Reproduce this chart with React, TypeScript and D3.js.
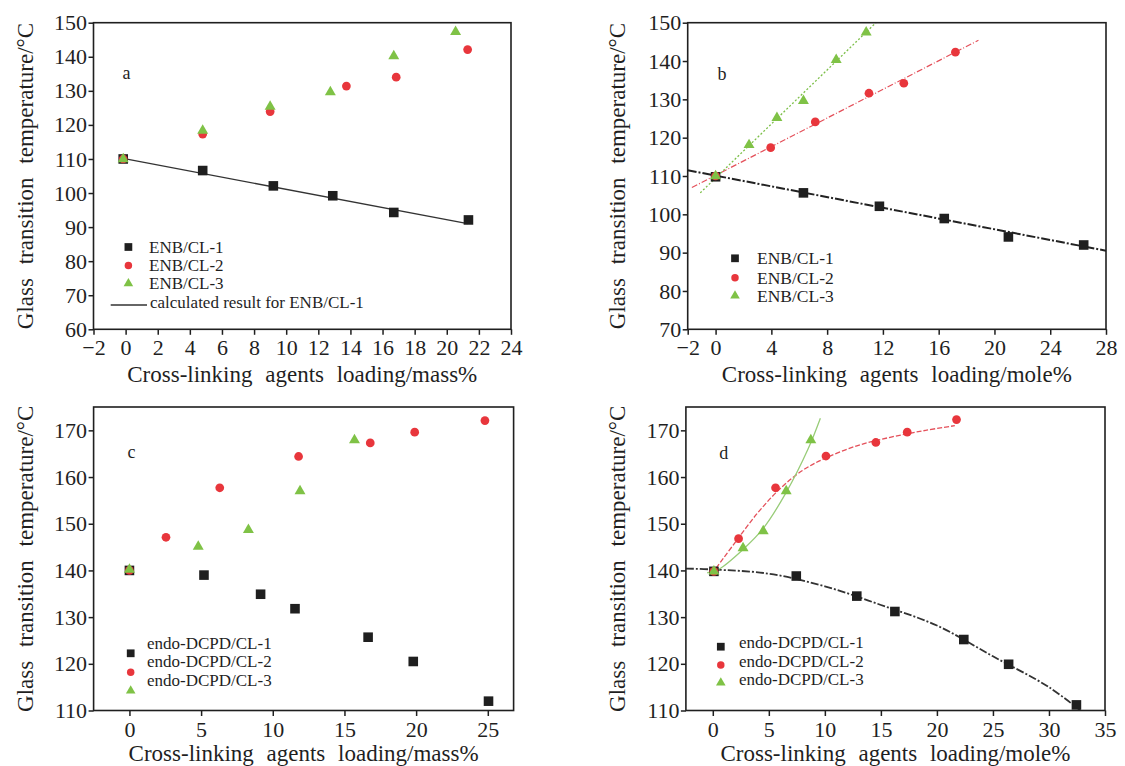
import React, { useRef, useEffect } from "react";
import * as d3 from "d3";

// ---- panel a : ENB, loading in mass% ----
const aX1 = [-0.15, 4.8, 9.2, 12.9, 16.7, 21.35];
const aY1 = [110, 106.6, 102.1, 99.2, 94.3, 92.1];
const aX2 = [-0.15, 4.8, 9.0, 13.75, 16.85, 21.3];
const aY2 = [110, 117.3, 123.9, 131.4, 134, 142.1];
const aX3 = [-0.15, 4.8, 9.0, 12.75, 16.7, 20.55];
const aY3 = [110, 118.3, 125.4, 129.6, 140.2, 147.3];
const aCalcX = [0, 21.3];
const aCalcY = [110, 91];
const aXTicks = [-2, 0, 2, 4, 6, 8, 10, 12, 14, 16, 18, 20, 22, 24];
const aYTicks = [60, 70, 80, 90, 100, 110, 120, 130, 140, 150];
const aLegend = ["ENB/CL-1", "ENB/CL-2", "ENB/CL-3"];
const aCalcLabel = "calculated result for ENB/CL-1";

// ---- panel b : ENB, loading in mole% ----
const bX1 = [0, 6.3, 11.75, 16.4, 21.0, 26.4];
const bY1 = [109.8, 105.6, 102.1, 98.9, 94.1, 92.0];
const bX2 = [0, 3.95, 7.15, 11.0, 13.5, 17.2];
const bY2 = [110, 117.4, 124.1, 131.6, 134.2, 142.3];
const bX3 = [0, 2.4, 4.4, 6.3, 8.65, 10.8];
const bY3 = [110, 118.1, 125.2, 129.6, 140.3, 147.5];
const bFit1X = [-2, 28];
const bFit1Y = [111.5, 90.5];
const bFit2X = [-1.7, 18.85];
const bFit2Y = [107, 145.4];
const bFit3X = [-1.1, 11.5];
const bFit3Y = [105.6, 150];
const bXTicks = [-2, 0, 4, 8, 12, 16, 20, 24, 28];
const bYTicks = [70, 80, 90, 100, 110, 120, 130, 140, 150];
const bLegend = ["ENB/CL-1", "ENB/CL-2", "ENB/CL-3"];

// ---- panel c : endo-DCPD, loading in mass% ----
const cX1 = [0, 5.2, 9.15, 11.55, 16.65, 19.8, 25.05];
const cY1 = [140, 139, 134.9, 131.8, 125.7, 120.5, 112];
const cX2 = [0, 2.55, 6.3, 11.8, 16.8, 19.9, 24.8];
const cY2 = [140, 147.1, 157.7, 164.4, 167.3, 169.6, 172.1];
const cX3 = [0, 4.8, 8.3, 11.9, 15.7];
const cY3 = [140.2, 145.1, 148.7, 157, 167.9];
const cXTicks = [0, 5, 10, 15, 20, 25];
const cYTicks = [110, 120, 130, 140, 150, 160, 170];
const cLegend = ["endo-DCPD/CL-1", "endo-DCPD/CL-2", "endo-DCPD/CL-3"];

// ---- panel d : endo-DCPD, loading in mole% ----
const dX1 = [0.1, 7.45, 12.85, 16.25, 22.4, 26.4, 32.45];
const dY1 = [139.8, 138.8, 134.5, 131.2, 125.2, 119.9, 111.2];
const dX2 = [0.1, 2.3, 5.6, 10.1, 14.55, 17.35, 21.75];
const dY2 = [139.8, 146.8, 157.7, 164.5, 167.4, 169.6, 172.3];
const dX3 = [0.1, 2.7, 4.5, 6.55, 8.75];
const dY3 = [139.8, 144.8, 148.4, 157, 167.9];
const dFit1X = [-2.4, 0, 5, 10, 15, 20, 25, 30, 32.8];
const dFit1Y = [140.4, 140.2, 139.3, 136.6, 132.6, 128.2, 121.6, 115, 110];
const dFit2X = [0.3, 2, 4, 6, 8, 10, 13, 16, 19, 21.6];
const dFit2Y = [140.5, 146, 152.3, 157.5, 161.4, 164, 166.8, 168.6, 170, 171];
const dFit3X = [-0.5, 0.5, 2.7, 4.5, 6.5, 8.5, 9.6];
const dFit3Y = [139.5, 140.2, 144.5, 149, 156.5, 166, 172.6];
const dXTicks = [0, 5, 10, 15, 20, 25, 30, 35];
const dYTicks = [110, 120, 130, 140, 150, 160, 170];
const dLegend = ["endo-DCPD/CL-1", "endo-DCPD/CL-2", "endo-DCPD/CL-3"];

const yTitle = "Glass transition temperature/°C";
const massTitle = "Cross-linking agents loading/mass%";
const moleTitle = "Cross-linking agents loading/mole%";

const INK = "#1f1f1f";
const RED = "#e8363c";
const GREEN = "#7fc246";
const FONT = '"Liberation Serif", "Times New Roman", Times, serif';

const shapes = [d3.symbolSquare, d3.symbolCircle, d3.symbolTriangle];
const colors = [INK, RED, GREEN];
const markSize = [92, 60, 52];
const legendSize = [60, 44, 40];

const panels = [
  {
    left: 93.5, right: 511, top: 22.7, bottom: 329.3,
    xDomain: [-2, 24], yDomain: [60, 150], xTicks: aXTicks, yTicks: aYTicks,
    xs: [aX1, aX2, aX3], ys: [aY1, aY2, aY3],
    fits: [{ x: aCalcX, y: aCalcY, color: "#333", dash: null, width: 1.3, curve: d3.curveLinear }],
    letter: "a", letterX: 126.6, letterY: 79,
    yTitleX: 32.5, xTitle: massTitle, xTitleY: 382,
    legend: aLegend, legFont: 17, legMarkX: 128.4, legTextX: 149,
    legMarkY: [247, 265.5, 283.5], legTextY: [252.5, 270.5, 288.5],
    lineItem: { x1: 110.7, x2: 147, y: 305, textX: 150, textY: 307.5, label: aCalcLabel },
  },
  {
    left: 687.7, right: 1106, top: 22.7, bottom: 329.3,
    xDomain: [-2, 28], yDomain: [70, 150], xTicks: bXTicks, yTicks: bYTicks,
    xs: [bX1, bX2, bX3], ys: [bY1, bY2, bY3],
    fits: [
      { x: bFit1X, y: bFit1Y, color: "#222", dash: "9,2,2,2", width: 2, curve: d3.curveLinear },
      { x: bFit2X, y: bFit2Y, color: "#e4505a", dash: "6,2,1,2", width: 1.2, curve: d3.curveLinear },
      { x: bFit3X, y: bFit3Y, color: "#7cbf48", dash: "2,2", width: 1.3, curve: d3.curveLinear },
    ],
    letter: "b", letterX: 722, letterY: 80,
    yTitleX: 625, xTitle: moleTitle, xTitleY: 382,
    legend: bLegend, legFont: 17.5, legMarkX: 735, legTextX: 757,
    legMarkY: [258.3, 277.7, 295.7], legTextY: [264.3, 283.7, 301.7],
    lineItem: null,
  },
  {
    left: 93.6, right: 513.6, top: 407, bottom: 710.5,
    xDomain: [-2.5, 26.8], yDomain: [110, 175], xTicks: cXTicks, yTicks: cYTicks,
    xs: [cX1, cX2, cX3], ys: [cY1, cY2, cY3],
    fits: [],
    letter: "c", letterX: 131.4, letterY: 458,
    yTitleX: 32.5, xTitle: massTitle, xTitleY: 761,
    legend: cLegend, legFont: 17, legMarkX: 130.7, legTextX: 147,
    legMarkY: [653.3, 672.3, 690.7], legTextY: [648.5, 667, 685.5],
    lineItem: null,
  },
  {
    left: 685.9, right: 1105, top: 407, bottom: 710.5,
    xDomain: [-2.4, 35], yDomain: [110, 175], xTicks: dXTicks, yTicks: dYTicks,
    xs: [dX1, dX2, dX3], ys: [dY1, dY2, dY3],
    fits: [
      { x: dFit1X, y: dFit1Y, color: "#333", dash: "8,2,2,2", width: 1.8, curve: d3.curveCatmullRom },
      { x: dFit2X, y: dFit2Y, color: "#e4505a", dash: "5,2", width: 1.3, curve: d3.curveCatmullRom },
      { x: dFit3X, y: dFit3Y, color: "#98cc78", dash: null, width: 1.3, curve: d3.curveCatmullRom },
    ],
    letter: "d", letterX: 723.7, letterY: 459,
    yTitleX: 625, xTitle: moleTitle, xTitleY: 761,
    legend: dLegend, legFont: 17, legMarkX: 720.8, legTextX: 739,
    legMarkY: [646.7, 665, 682.7], legTextY: [648, 666.5, 685],
    lineItem: null,
  },
];

const fmt = d3.format("d");

const App = () => {
  const svgRef = useRef<SVGSVGElement>(null);

  useEffect(() => {
    const svg = d3.select(svgRef.current);
    svg.selectAll("*").remove();

    panels.forEach((p, pi) => {
      const x = d3.scaleLinear().domain(p.xDomain).range([p.left, p.right]);
      const y = d3.scaleLinear().domain(p.yDomain).range([p.bottom, p.top]);
      const g = svg.append("g");

      const clipId = `clip-${pi}`;
      g.append("clipPath")
        .attr("id", clipId)
        .append("rect")
        .attr("x", p.left)
        .attr("y", p.top)
        .attr("width", p.right - p.left)
        .attr("height", p.bottom - p.top);

      // fitted / calculated lines
      const plot = g.append("g").attr("clip-path", `url(#${clipId})`);
      p.fits.forEach((f) => {
        const line = d3
          .line<number>()
          .x((d) => x(d))
          .y((d, i) => y(f.y[i]))
          .curve(f.curve);
        plot
          .append("path")
          .attr("d", line(f.x))
          .attr("fill", "none")
          .attr("stroke", f.color)
          .attr("stroke-width", f.width)
          .attr("stroke-dasharray", f.dash);
      });

      // data points
      p.xs.forEach((xs, si) => {
        const pts = xs.map((v, i) => [v, p.ys[si][i]]);
        g.append("g")
          .selectAll("path")
          .data(pts)
          .join("path")
          .attr("transform", (d) => `translate(${x(d[0])},${y(d[1])})`)
          .attr("d", d3.symbol(shapes[si], markSize[si])())
          .attr("fill", colors[si]);
      });

      // axes
      const xAxis = g
        .append("g")
        .attr("transform", `translate(0,${p.bottom})`)
        .call(d3.axisBottom(x).tickValues(p.xTicks).tickSize(5.5).tickPadding(5).tickFormat(fmt));
      const yAxis = g
        .append("g")
        .attr("transform", `translate(${p.left},0)`)
        .call(d3.axisLeft(y).tickValues(p.yTicks).tickSize(5).tickPadding(1.5).tickFormat(fmt));
      [xAxis, yAxis].forEach((ax) => {
        ax.select(".domain").remove();
        ax.selectAll("line").attr("stroke", INK).attr("stroke-width", 1.5);
        ax.selectAll("text")
          .attr("fill", INK)
          .style("font-family", FONT)
          .style("font-size", "22px");
      });

      // frame
      g.append("rect")
        .attr("x", p.left)
        .attr("y", p.top)
        .attr("width", p.right - p.left)
        .attr("height", p.bottom - p.top)
        .attr("fill", "none")
        .attr("stroke", INK)
        .attr("stroke-width", 1.6);

      // axis titles
      g.append("text")
        .attr("transform", `translate(${p.yTitleX},${(p.top + p.bottom) / 2}) rotate(-90)`)
        .attr("text-anchor", "middle")
        .attr("fill", INK)
        .style("font-family", FONT)
        .style("font-size", "23px")
        .style("word-spacing", "8px")
        .text(yTitle);
      g.append("text")
        .attr("x", (p.left + p.right) / 2)
        .attr("y", p.xTitleY)
        .attr("text-anchor", "middle")
        .attr("fill", INK)
        .style("font-family", FONT)
        .style("font-size", "23px")
        .style("word-spacing", "7px")
        .text(p.xTitle);

      // panel letter
      g.append("text")
        .attr("x", p.letterX)
        .attr("y", p.letterY)
        .attr("text-anchor", "middle")
        .attr("fill", INK)
        .style("font-family", FONT)
        .style("font-size", "18px")
        .text(p.letter);

      // legend
      const leg = g.append("g");
      p.legend.forEach((label, i) => {
        leg
          .append("path")
          .attr("transform", `translate(${p.legMarkX},${p.legMarkY[i]})`)
          .attr("d", d3.symbol(shapes[i], legendSize[i])())
          .attr("fill", colors[i]);
        leg
          .append("text")
          .attr("x", p.legTextX)
          .attr("y", p.legTextY[i])
          .attr("fill", INK)
          .style("font-family", FONT)
          .style("font-size", `${p.legFont}px`)
          .text(label);
      });
      if (p.lineItem) {
        const li = p.lineItem;
        leg
          .append("line")
          .attr("x1", li.x1)
          .attr("x2", li.x2)
          .attr("y1", li.y)
          .attr("y2", li.y)
          .attr("stroke", "#333")
          .attr("stroke-width", 1.5);
        leg
          .append("text")
          .attr("x", li.textX)
          .attr("y", li.textY)
          .attr("fill", INK)
          .style("font-family", FONT)
          .style("font-size", `${p.legFont}px`)
          .text(li.label);
      }
    });
  }, []);

  return (
    <svg
      ref={svgRef}
      width={1125}
      height={766}
      style={{ position: "absolute", left: 0, top: 0, background: "#fff" }}
    ></svg>
  );
};

export default App;
